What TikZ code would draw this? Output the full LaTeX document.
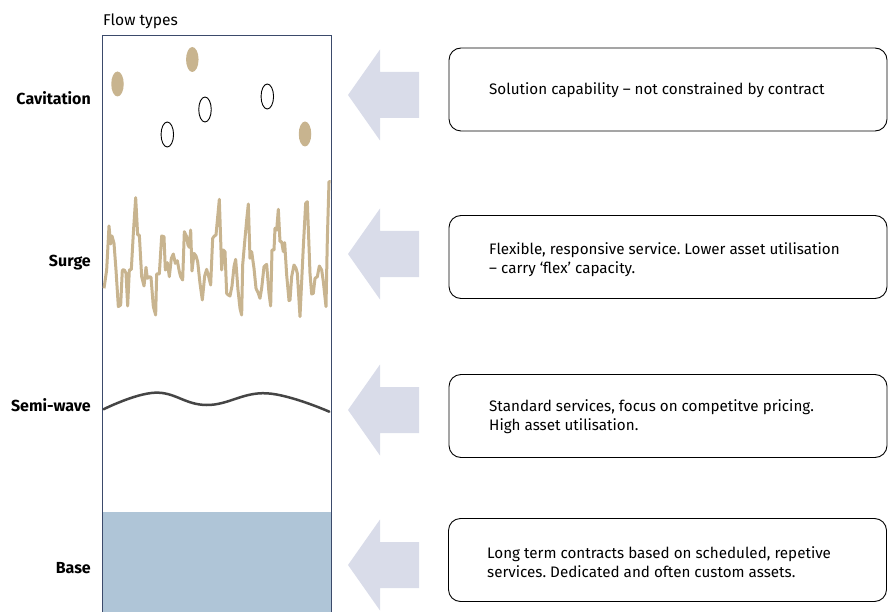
\documentclass[tikz,border=0pt]{standalone}
\usepackage{fontspec}
\setmainfont{Fira Sans}
\usetikzlibrary{shapes.geometric}
\frenchspacing
\begin{document}
\definecolor{tan}{HTML}{C8B48F}
\definecolor{arrowgrey}{HTML}{D9DCE9}
\definecolor{basefill}{HTML}{AFC5D7}
\definecolor{frame}{HTML}{3B4A6B}
\definecolor{wavegrey}{HTML}{454545}
\begin{tikzpicture}[x=1pt,y=-1pt,
  rowlabel/.style={anchor=east,inner sep=0pt,font=\fontsize{16}{17}\selectfont\bfseries},
  infobox/.style={draw=black,line width=0.9pt,rounded corners=12pt,
    minimum width=438pt,minimum height=83pt,inner sep=0pt},
  infotext/.style={anchor=west,inner sep=0pt,align=left,font=\fontsize{15.2}{19}\selectfont},
  bubble/.style={ellipse,minimum width=12.5pt,minimum height=25pt,inner sep=0pt},
  blockarrow/.style={fill=arrowgrey,draw=none}]
\useasboundingbox (0,0) rectangle (888,612);
\clip (0,0) rectangle (888,612);

% column of flow types
\fill[basefill] (102,512) rectangle (331,614);
\draw[frame,line width=1pt] (102,614) -- (102,36) -- (331,36) -- (331,614);
\node[anchor=west,inner sep=0pt,font=\fontsize{15.6}{17}\selectfont] (title) at (103,21) {Flow types};

% row labels
\node[rowlabel] (lcav) at (91,98) {Cavitation};
\node[rowlabel] (lsurge) at (91,263) {Surge};
\node[rowlabel] (lsemi) at (91,405) {Semi-wave};
\node[rowlabel] (lbase) at (91,568) {Base};

% cavitation bubbles
\node[bubble,fill=tan] (b1) at (117.5,84) {};
\node[bubble,fill=tan] (b2) at (192.3,59.5) {};
\node[bubble,fill=tan] (b3) at (305,134) {};
\node[bubble,draw=black,line width=0.9pt] (b4) at (167.3,134.5) {};
\node[bubble,draw=black,line width=0.9pt] (b5) at (205,109.5) {};
\node[bubble,draw=black,line width=0.9pt] (b6) at (267.3,96.5) {};

% surge trace
\begin{scope}[shift={(90,170)},scale=1/3]
\draw[tan,line width=3pt,line join=round] (42,355) -- (50,300) -- (57,168) -- (62,222) -- (66,198) -- (72,220) -- (78,300) -- (85,410) -- (92,405) -- (97,300) -- (103,300) -- (108,310) -- (113,408) -- (118,300) -- (124,298) -- (130,190) -- (137,83) -- (143,195) -- (148,195) -- (155,320) -- (162,348) -- (168,292) -- (172,325) -- (178,320) -- (183,322) -- (190,410) -- (197,435) -- (200,312) -- (208,312) -- (215,198) -- (222,200) -- (226,300) -- (232,278) -- (238,320) -- (244,265) -- (250,252) -- (256,280) -- (262,272) -- (268,305) -- (272,320) -- (278,330) -- (283,185) -- (290,200) -- (294,225) -- (298,232) -- (302,180) -- (306,303) -- (312,250) -- (318,258) -- (323,275) -- (330,340) -- (337,390) -- (344,318) -- (350,298) -- (356,320) -- (362,345) -- (368,205) -- (373,198) -- (378,195) -- (388,88) -- (395,300) -- (400,240) -- (405,245) -- (410,370) -- (415,375) -- (420,378) -- (426,348) -- (432,290) -- (437,268) -- (444,360) -- (450,415) -- (455,435) -- (458,285) -- (465,205) -- (470,150) -- (475,102) -- (480,265) -- (485,245) -- (492,295) -- (498,355) -- (505,370) -- (510,385) -- (515,355) -- (522,290) -- (530,283) -- (537,370) -- (542,408) -- (546,240) -- (552,240) -- (555,175) -- (560,180) -- (565,118) -- (570,215) -- (575,215) -- (580,245) -- (584,218) -- (590,315) -- (597,392) -- (600,390) -- (605,320) -- (612,285) -- (618,295) -- (622,310) -- (630,440) -- (640,230) -- (647,100) -- (652,95) -- (660,310) -- (665,372) -- (670,370) -- (675,325) -- (682,320) -- (688,288) -- (695,300) -- (700,335) -- (708,410) -- (712,208) -- (717,35) -- (722,35);
\end{scope}

% semi-wave trace
\draw[wavegrey,line width=2.5pt,line cap=round] plot[smooth,tension=0.7] coordinates {(103.5,409.3) (155,392.7) (206.7,405) (266.7,393.3) (329.3,411.7)};

% block arrows pointing left
\foreach \cy in {95,254,410,565}{
  \fill[blockarrow] (348,\cy) -- (380,\cy-45.5) -- (380,\cy-23) -- (419,\cy-23)
    -- (419,\cy+23) -- (380,\cy+23) -- (380,\cy+45.5) -- cycle;
}

% description boxes
\node[infobox] (d1) at (668,89.5) {};
\node[infobox] (d2) at (668,257) {};
\node[infobox] (d3) at (668,416) {};
\node[infobox] (d4) at (667.5,560) {};

% description texts
\node[infotext] (t1) at (489,90) {Solution capability -- not constrained by contract};
\node[infotext] (t2) at (489,259.5) {Flexible, responsive service. Lower asset utilisation\\-- carry ‘flex’ capacity.};
\node[infotext] (t3) at (489,416.5) {Standard services, focus on competitve pricing.\\High asset utilisation.};
\node[infotext] (t4) at (487,562.5) {Long term contracts based on scheduled, repetive\\services. Dedicated and often custom assets.};
\end{tikzpicture}
\end{document}
